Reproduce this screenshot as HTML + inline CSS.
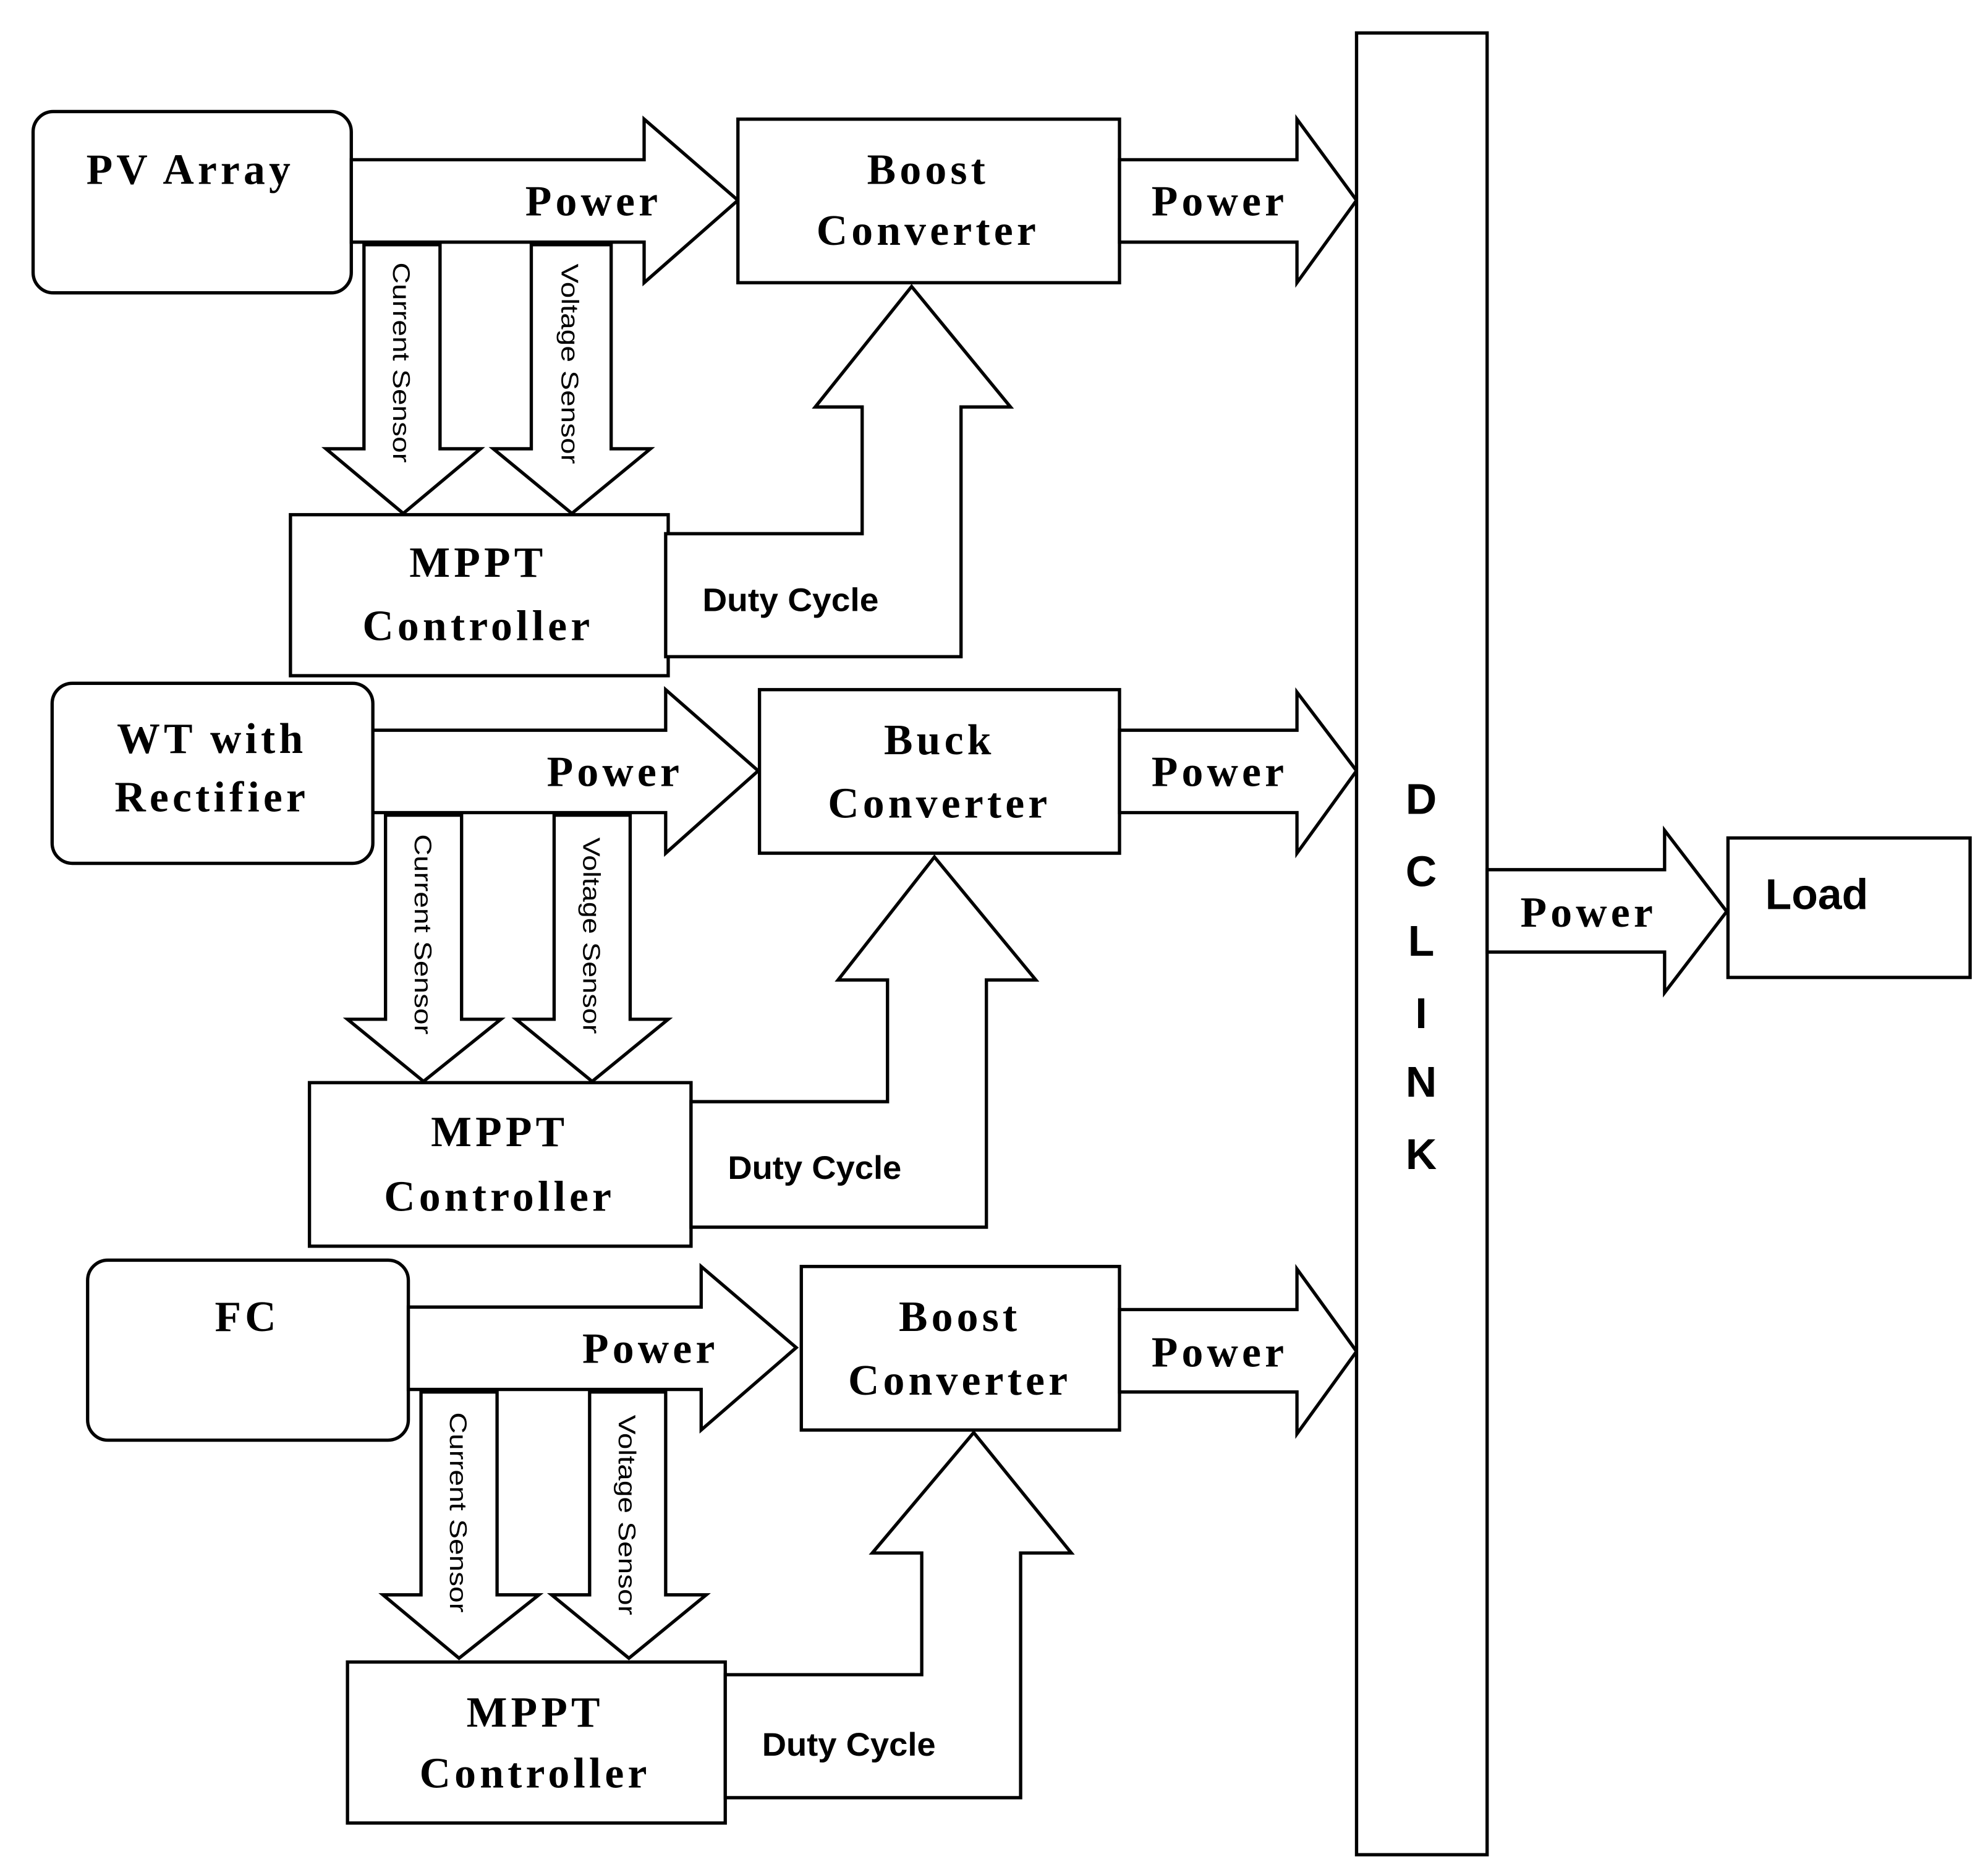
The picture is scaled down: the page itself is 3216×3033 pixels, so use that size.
<!DOCTYPE html>
<html><head><meta charset="utf-8"><style>
html,body{margin:0;padding:0;background:#fff;}
svg{display:block;}
.s{fill:#fff;stroke:#000;stroke-width:2.6;}
.t{font-family:"Liberation Serif",serif;font-weight:bold;font-size:34px;text-anchor:middle;fill:#000;letter-spacing:3px;}
.a{font-family:"Liberation Sans",sans-serif;font-size:26px;fill:#000;font-weight:bold;}
.v{font-family:"Liberation Sans",sans-serif;font-size:19px;fill:#000;text-anchor:middle;}
.d{font-family:"Liberation Sans",sans-serif;font-weight:bold;font-size:34px;text-anchor:middle;fill:#000;}
</style></head><body>
<svg width="3216" height="3033" viewBox="0 0 1568 1479" xmlns="http://www.w3.org/2000/svg">
<rect width="1568" height="1479" fill="#fff"/>

<!-- Section 1 -->
<rect class="s" x="26" y="88" width="251" height="143" rx="16"/>
<text class="t" x="150" y="145">PV Array</text>
<polygon class="s" points="277,126 508,126 508,94 582,158 508,223 508,191 277,191"/>
<text class="t" x="468" y="170">Power</text>
<rect class="s" x="582" y="94" width="301" height="129"/>
<text class="t" x="732" y="145">Boost</text>
<text class="t" x="732" y="193">Converter</text>
<polygon class="s" points="883,126 1023,126 1023,94 1070,158 1023,223 1023,191 883,191"/>
<text class="t" x="962" y="170">Power</text>
<polygon class="s" points="287,193 347,193 347,354 379,354 318,405 257,354 287,354"/>
<text class="v" transform="translate(310,286) rotate(90)" textLength="158" lengthAdjust="spacingAndGlyphs">Current Sensor</text>
<polygon class="s" points="419,193 482,193 482,354 513,354 451,405 389,354 419,354"/>
<text class="v" transform="translate(443,287) rotate(90)" textLength="158" lengthAdjust="spacingAndGlyphs">Voltage Sensor</text>
<rect class="s" x="229" y="406" width="298" height="127"/>
<text class="t" x="377" y="455">MPPT</text>
<text class="t" x="377" y="505">Controller</text>
<polygon class="s" points="525,421 680,421 680,321 643,321 719,226 797,321 758,321 758,518 525,518"/>
<text class="a" x="554" y="482" textLength="139" lengthAdjust="spacingAndGlyphs">Duty Cycle</text>

<!-- Section 2 -->
<rect class="s" x="41" y="539" width="253" height="142" rx="16"/>
<text class="t" x="167" y="594">WT with</text>
<text class="t" x="167" y="640">Rectifier</text>
<polygon class="s" points="294,576 525,576 525,544 598,608 525,673 525,641 294,641"/>
<text class="t" x="485" y="620">Power</text>
<rect class="s" x="599" y="544" width="284" height="129"/>
<text class="t" x="741" y="595">Buck</text>
<text class="t" x="741" y="645">Converter</text>
<polygon class="s" points="883,576 1023,576 1023,546 1070,608 1023,673 1023,641 883,641"/>
<text class="t" x="962" y="620">Power</text>
<polygon class="s" points="304,643 364,643 364,804 395,804 334,853 274,804 304,804"/>
<text class="v" transform="translate(327,737) rotate(90)" textLength="158" lengthAdjust="spacingAndGlyphs">Current Sensor</text>
<polygon class="s" points="437,643 497,643 497,804 527,804 467,853 407,804 437,804"/>
<text class="v" transform="translate(460,738) rotate(90)" textLength="155" lengthAdjust="spacingAndGlyphs">Voltage Sensor</text>
<rect class="s" x="244" y="854" width="301" height="129"/>
<text class="t" x="394" y="904">MPPT</text>
<text class="t" x="394" y="955">Controller</text>
<polygon class="s" points="545,869 700,869 700,773 661,773 737,676 817,773 778,773 778,968 545,968"/>
<text class="a" x="574" y="930" textLength="137" lengthAdjust="spacingAndGlyphs">Duty Cycle</text>

<!-- Section 3 -->
<rect class="s" x="69" y="994" width="253" height="142" rx="16"/>
<text class="t" x="195" y="1050">FC</text>
<polygon class="s" points="322,1031 553,1031 553,999 628,1063 553,1128 553,1096 322,1096"/>
<text class="t" x="513" y="1075">Power</text>
<rect class="s" x="632" y="999" width="251" height="129"/>
<text class="t" x="757" y="1050">Boost</text>
<text class="t" x="757" y="1100">Converter</text>
<polygon class="s" points="883,1033 1023,1033 1023,1001 1070,1066 1023,1131 1023,1098 883,1098"/>
<text class="t" x="962" y="1078">Power</text>
<polygon class="s" points="332,1098 392,1098 392,1258 425,1258 362,1308 302,1258 332,1258"/>
<text class="v" transform="translate(355,1193) rotate(90)" textLength="158" lengthAdjust="spacingAndGlyphs">Current Sensor</text>
<polygon class="s" points="465,1098 525,1098 525,1258 557,1258 496,1308 435,1258 465,1258"/>
<text class="v" transform="translate(488,1195) rotate(90)" textLength="158" lengthAdjust="spacingAndGlyphs">Voltage Sensor</text>
<rect class="s" x="274" y="1311" width="298" height="127"/>
<text class="t" x="422" y="1362">MPPT</text>
<text class="t" x="422" y="1410">Controller</text>
<polygon class="s" points="572,1321 727,1321 727,1225 688,1225 768,1130 845,1225 805,1225 805,1418 572,1418"/>
<text class="a" x="601" y="1385" textLength="137" lengthAdjust="spacingAndGlyphs">Duty Cycle</text>

<!-- DC link -->
<rect class="s" x="1070" y="26" width="103" height="1437"/>
<text class="d" x="1121" y="642">D</text>
<text class="d" x="1121" y="699">C</text>
<text class="d" x="1121" y="754">L</text>
<text class="d" x="1121" y="811">I</text>
<text class="d" x="1121" y="865">N</text>
<text class="d" x="1121" y="922">K</text>

<polygon class="s" points="1173,686 1313,686 1313,655 1362,719 1313,783 1313,751 1173,751"/>
<text class="t" x="1253" y="731">Power</text>
<rect class="s" x="1363" y="661" width="191" height="110"/>
<text class="d" x="1433" y="717">Load</text>
</svg>
</body></html>
